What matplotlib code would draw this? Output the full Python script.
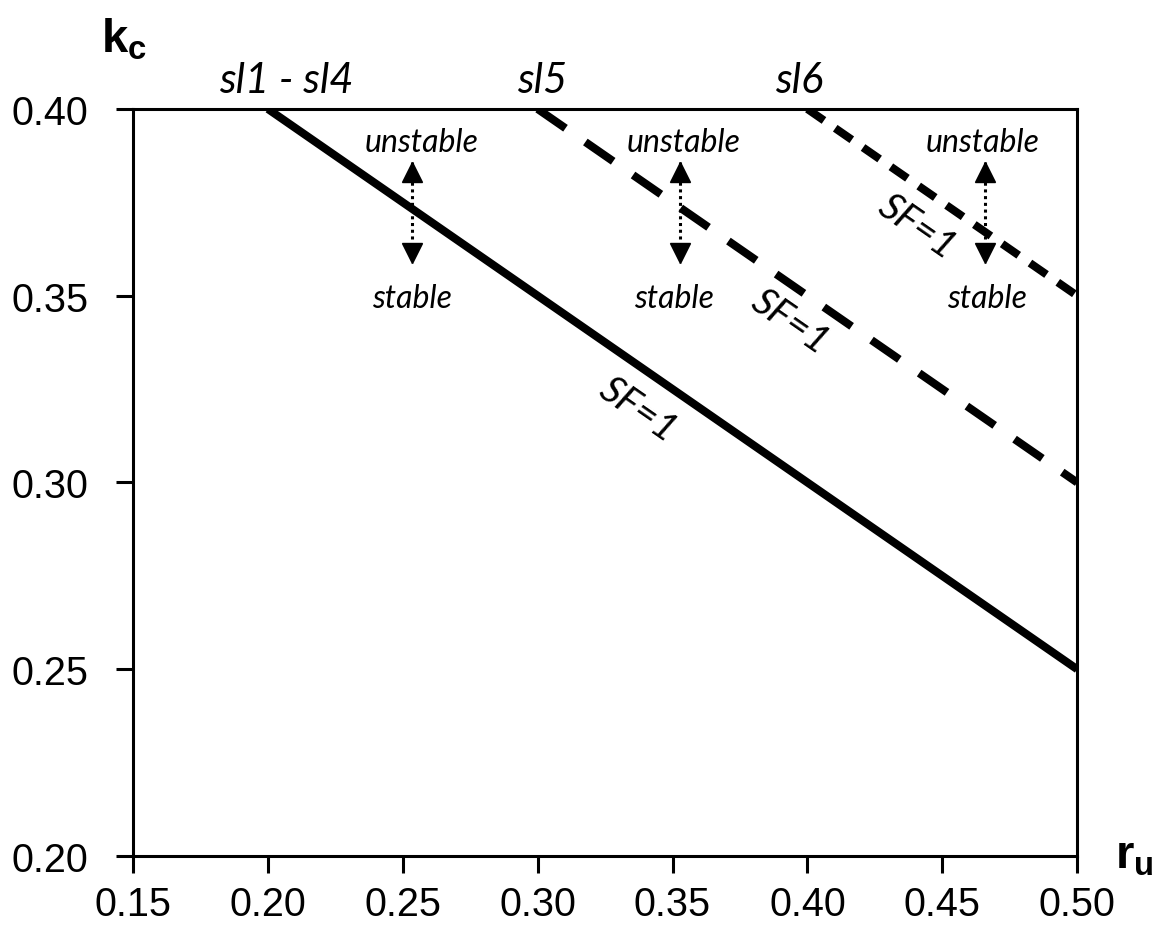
import numpy as np
from matplotlib import pyplot as plt
from matplotlib import transforms

plt.rcParams['mathtext.fontset'] = 'custom'
plt.rcParams['mathtext.bf'] = 'Liberation Sans:bold'
plt.rcParams['mathtext.rm'] = 'Liberation Sans'

# Data
ru_sl1_4 = [0.20, 0.50]
kc_sl1_4 = [0.40, 0.25]
ru_sl5 = [0.30, 0.50]
kc_sl5 = [0.40, 0.30]
ru_sl6 = [0.40, 0.50]
kc_sl6 = [0.40, 0.35]

x_ticks = [0.15, 0.20, 0.25, 0.30, 0.35, 0.40, 0.45, 0.50]
y_ticks = [0.20, 0.25, 0.30, 0.35, 0.40]

# slope labels above the plot
slope_names = ['sl1 - sl4', 'sl5', 'sl6']
slope_name_x = [0.2067, 0.3017, 0.397]
slope_name_y = 0.4046

# SF=1 labels
sf_x = [0.3374, 0.3936, 0.4407]
sf_y = [0.3197, 0.3432, 0.3687]

# stability arrows
arrow_x = [0.2534, 0.3528, 0.466]
arrow_top = 0.3858
arrow_bottom = 0.3588
unstable_x = [0.257, 0.354, 0.4648]
unstable_y = 0.3912
stable_x = [0.2534, 0.3506, 0.4667]
stable_y = 0.3493

fig = plt.figure(figsize=(11.57, 9.29), dpi=100)
ax = fig.add_axes([0.115, 0.0775, 0.816, 0.8041])

ax.plot(ru_sl1_4, kc_sl1_4, color='black', lw=5.8, solid_capstyle='butt')
ax.plot(ru_sl5, kc_sl5, color='black', lw=5.8, dashes=(4.2, 3.0))
ax.plot(ru_sl6, kc_sl6, color='black', lw=5.8, dashes=(2.5, 1.7))

ax.set_xlim(0.15, 0.50)
ax.set_ylim(0.20, 0.40)
ax.set_xticks(x_ticks)
ax.set_yticks(y_ticks)
ax.set_xticklabels(['%.2f' % v for v in x_ticks])
ax.set_yticklabels(['%.2f' % v for v in y_ticks])
ax.tick_params(direction='out', length=12, width=2.2, labelsize=28.5)
ax.tick_params(axis='x', pad=9)
ax.tick_params(axis='y', pad=20)
for lbl in ax.get_xticklabels() + ax.get_yticklabels():
    lbl.set_family('Liberation Sans')
for s in ax.spines.values():
    s.set_linewidth(2.2)

italic = dict(family='Lato', style='italic', color='black')

for name, x in zip(slope_names, slope_name_x):
    ax.text(x, slope_name_y, name, fontsize=30, ha='center', va='baseline',
            clip_on=False, **italic)

for x, y in zip(sf_x, sf_y):
    ax.text(x, y, 'SF=1', fontsize=28, rotation=-34.7, ha='center', va='center',
            rotation_mode='anchor', **italic)

# dotted double arrows, heads drawn as triangles ending at the tips
up_tr = transforms.offset_copy(ax.transData, fig=fig, x=0, y=-7.2, units='points')
dn_tr = transforms.offset_copy(ax.transData, fig=fig, x=0, y=7.2, units='points')
for x in arrow_x:
    ax.plot([x, x], [arrow_top, arrow_bottom], color='black', lw=2.2, ls=(0, (1, 1.2)))
    ax.plot([x], [arrow_top], marker='^', ms=14, color='black', transform=up_tr)
    ax.plot([x], [arrow_bottom], marker='v', ms=14, color='black', transform=dn_tr)

for x in unstable_x:
    ax.text(x, unstable_y, 'unstable', fontsize=23, ha='center', va='center', **italic)
for x in stable_x:
    ax.text(x, stable_y, 'stable', fontsize=23, ha='center', va='center', **italic)

fig.text(0.107, 0.957, r'$\mathbf{k_c}$', fontsize=34, ha='center', va='center')
fig.text(0.98, 0.079, r'$\mathbf{r_u}$', fontsize=34, ha='center', va='center')

fig.savefig('out.png', dpi=100)
